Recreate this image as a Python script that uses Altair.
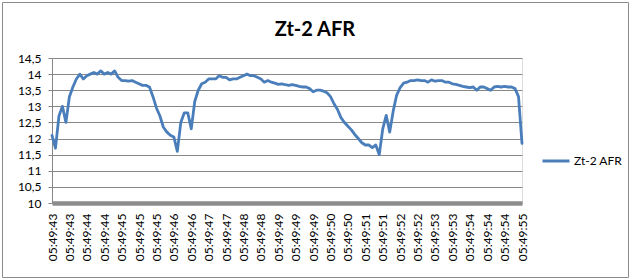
import altair as alt
import pandas as pd

series_name = "Zt-2 AFR"

tick_labels = [
    "05:49:43", "05:49:43", "05:49:44", "05:49:44", "05:49:45", "05:49:45",
    "05:49:45", "05:49:46", "05:49:46", "05:49:47", "05:49:47", "05:49:48",
    "05:49:48", "05:49:49", "05:49:49", "05:49:49", "05:49:50", "05:49:50",
    "05:49:51", "05:49:51", "05:49:52", "05:49:52", "05:49:53", "05:49:53",
    "05:49:54", "05:49:54", "05:49:54", "05:49:55",
]
points_per_label = 5

afr = [
    12.1, 11.7, 12.7, 13.0, 12.5, 13.3, 13.6, 13.85, 14.0, 13.85,
    13.95, 14.0, 14.05, 14.0, 14.1, 14.0, 14.05, 14.0, 14.1, 13.9,
    13.8, 13.8, 13.78, 13.8, 13.75, 13.7, 13.65, 13.65, 13.6, 13.3,
    12.95, 12.7, 12.35, 12.2, 12.1, 12.05, 11.6, 12.5, 12.8, 12.8,
    12.3, 13.15, 13.5, 13.7, 13.75, 13.85, 13.85, 13.85, 13.95, 13.9,
    13.9, 13.82, 13.85, 13.85, 13.9, 13.95, 14.0, 13.95, 13.95, 13.9,
    13.85, 13.75, 13.8, 13.75, 13.72, 13.68, 13.7, 13.67, 13.65, 13.67,
    13.65, 13.62, 13.6, 13.6, 13.55, 13.45, 13.5, 13.5, 13.47, 13.42,
    13.3, 13.08, 12.9, 12.65, 12.5, 12.38, 12.27, 12.12, 12.0, 11.87,
    11.8, 11.8, 11.72, 11.8, 11.5, 12.3, 12.72, 12.2, 12.85, 13.35,
    13.58, 13.72, 13.75, 13.8, 13.8, 13.82, 13.8, 13.8, 13.75, 13.82,
    13.78, 13.8, 13.8, 13.75, 13.75, 13.7, 13.68, 13.65, 13.62, 13.6,
    13.58, 13.6, 13.5, 13.6, 13.6, 13.55, 13.5, 13.6, 13.62, 13.6,
    13.62, 13.6, 13.6, 13.55, 13.3, 11.85,
]

y_ticks = [10, 10.5, 11, 11.5, 12, 12.5, 13, 13.5, 14, 14.5]

df = pd.DataFrame({
    "idx": list(range(len(afr))),
    "afr": afr,
    "series": [series_name] * len(afr),
})

n_max = len(afr) - 1
x_tick_values = list(range(0, n_max + 1, points_per_label))
label_array = "[" + ",".join("'" + t + "'" for t in tick_labels) + "]"

FONT = "Lato"
GRAY = "#878787"

line = alt.Chart(df).mark_line(
    strokeWidth=2.8, strokeJoin="round", strokeCap="round"
).encode(
    x=alt.X(
        "idx:Q",
        scale=alt.Scale(domain=[0, n_max], nice=False, zero=False),
        axis=alt.Axis(
            values=x_tick_values,
            labelExpr=label_array + "[round(datum.value / %d)]" % points_per_label,
            labelAngle=-90,
            labelPadding=10,
            ticks=False,
            tickSize=0,
            grid=False,
            domainColor="#8C8C8C",
            domainWidth=4.5,
            title=None,
            labelFont=FONT,
            labelFontSize=12,
            labelColor="#000000",
            labelOverlap=False,
            labelFlush=False,
        ),
    ),
    y=alt.Y(
        "afr:Q",
        scale=alt.Scale(domain=[10, 14.5], nice=False, zero=False),
        axis=alt.Axis(
            values=y_ticks,
            labelExpr="replace(toString(datum.value), '.', ',')",
            tickSize=4,
            tickColor=GRAY,
            domainColor=GRAY,
            gridColor=GRAY,
            gridWidth=1,
            labelPadding=7,
            title=None,
            labelFont=FONT,
            labelFontSize=12,
            labelColor="#000000",
            labelOverlap=False,
        ),
    ),
    color=alt.Color(
        "series:N",
        scale=alt.Scale(range=["#4A7EBB"]),
        legend=alt.Legend(
            title=None,
            orient="none",
            legendX=489,
            legendY=88,
            symbolType="stroke",
            symbolSize=729,
            symbolStrokeWidth=3,
            labelOffset=3,
            labelFont=FONT,
            labelFontSize=12,
            labelColor="#000000",
            padding=0,
        ),
    ),
)

frame = alt.Chart(alt.Data(values=[{"k": 1}])).mark_rect(
    fillOpacity=0, stroke="#8A8A8A", strokeWidth=1
).encode(
    x=alt.value(-49.5),
    x2=alt.value(576.5),
    y=alt.value(-55.5),
    y2=alt.value(219.5),
)

chart = alt.layer(frame, line).properties(
    width=470,
    height=145,
    padding={"left": 52, "top": 58, "right": 111, "bottom": 76},
    autosize=alt.AutoSizeParams(type="none"),
    title=alt.TitleParams(
        "Zt-2 AFR",
        font=FONT,
        fontSize=20,
        fontWeight="bold",
        color="#000000",
        anchor="middle",
        dx=28,
        offset=-38,
    ),
).configure_view(stroke=None).configure(background="#FFFFFF")

chart.save("out.html", embed_options={"renderer": "svg", "actions": False})
